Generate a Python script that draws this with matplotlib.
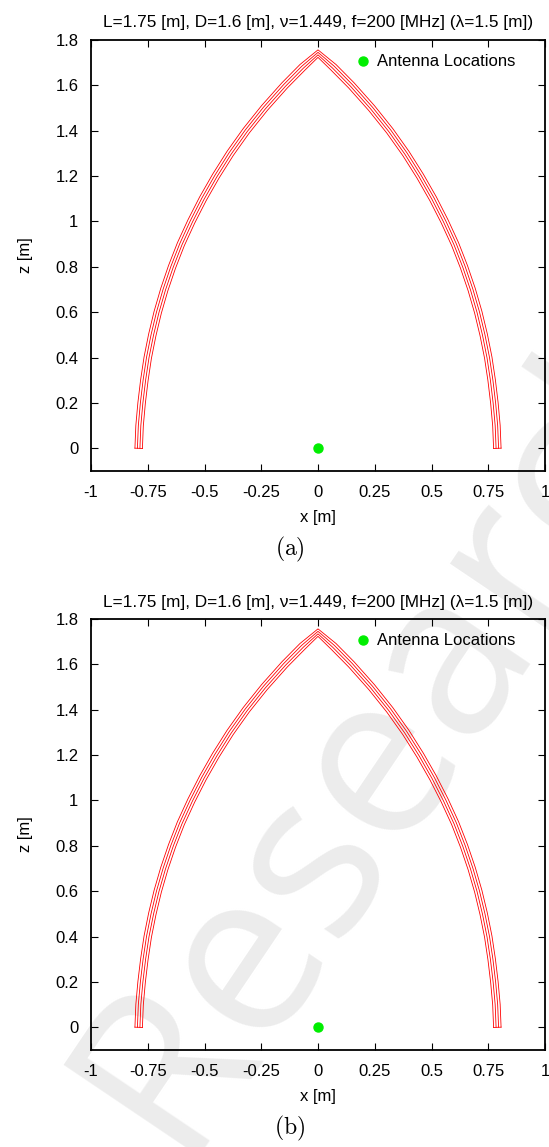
import numpy as np
import matplotlib
matplotlib.use('Agg')
import matplotlib.pyplot as plt

plt.rcParams['font.family'] = ['Liberation Sans', 'DejaVu Sans']
plt.rcParams['mathtext.fontset'] = 'cm'

# Right half of the shell centre line (z up, x out)
shell_z = [0.00, 0.10, 0.20, 0.30, 0.40, 0.50, 0.60, 0.70, 0.80, 0.90, 1.00,
           1.10, 1.20, 1.30, 1.40, 1.50, 1.60, 1.68, 1.74]
shell_x = [0.790, 0.786, 0.777, 0.765, 0.750, 0.730, 0.706, 0.677, 0.643, 0.604, 0.558,
           0.507, 0.450, 0.387, 0.316, 0.236, 0.147, 0.068, 0.000]

# antenna positions
antenna_x = [0.0]
antenna_z = [0.0]

title = 'L=1.75 [m], D=1.6 [m], \u03bd=1.449, f=200 [MHz] (\u03bb=1.5 [m])'
x_ticks = [-1, -0.75, -0.5, -0.25, 0, 0.25, 0.5, 0.75, 1]
x_ticklabels = ['-1', '-0.75', '-0.5', '-0.25', '0', '0.25', '0.5', '0.75', '1']
z_ticks = [0, 0.2, 0.4, 0.6, 0.8, 1.0, 1.2, 1.4, 1.6, 1.8]
z_ticklabels = ['0', '0.2', '0.4', '0.6', '0.8', '1', '1.2', '1.4', '1.6', '1.8']
panel_labels = ['(a)', '(b)']

# offsets of the four wall lines (m)
wall_offsets = [-0.0165, -0.0055, 0.0055, 0.0165]

FS = 12


def shell_lines():
    xr = np.array(shell_x)
    zr = np.array(shell_z)
    xs = np.concatenate([-xr, xr[::-1][1:]])
    zs = np.concatenate([zr, zr[::-1][1:]])
    tx = np.gradient(xs)
    tz = np.gradient(zs)
    n = np.hypot(tx, tz)
    nx, nz = -tz / n, tx / n
    return [(xs + d * nx, zs + d * nz) for d in wall_offsets]


def draw_panel(ax):
    lines = shell_lines()
    for lx, lz in lines:
        ax.plot(lx, lz, color='red', lw=0.6, zorder=2)
    # close the wall at both feet
    for i in (0, -1):
        ax.plot([lines[0][0][i], lines[-1][0][i]], [lines[0][1][i], lines[-1][1][i]],
                color='red', lw=0.6, zorder=2)
    ax.plot(antenna_x, antenna_z, 'o', color='#00ee00', ms=6.5, ls='none',
            label='Antenna Locations', zorder=3)
    ax.set_xlim(-1, 1)
    ax.set_ylim(-0.1, 1.8)
    ax.set_xticks(x_ticks)
    ax.set_xticklabels(x_ticklabels)
    ax.set_yticks(z_ticks)
    ax.set_yticklabels(z_ticklabels)
    ax.tick_params(direction='in', length=5, width=0.8, top=True, right=True,
                   labelsize=FS)
    ax.tick_params(axis='x', pad=10)
    ax.tick_params(axis='y', pad=9)
    for s in ax.spines.values():
        s.set_linewidth(1.3)
    ax.set_xlabel('x [m]', fontsize=FS, labelpad=7)
    ax.set_ylabel('z [m]', fontsize=FS, labelpad=16)
    ax.set_title(title, fontsize=12.4, pad=9)
    ax.legend(loc='center left', bbox_to_anchor=(0.570, 0.949), frameon=False,
              fontsize=FS, handlelength=0.8, handletextpad=0.44, numpoints=1,
              borderpad=0.4, borderaxespad=0)
    ax.patch.set_alpha(0)


fig = plt.figure(figsize=(5.49, 11.47), dpi=100)
W, H = 549, 1147

# watermark behind everything
fig.text(0.73, 0.375, 'Research', fontsize=165, color='#ececec', rotation=56,
         ha='center', va='center', zorder=-5,
         family=['Open Sans', 'DejaVu Sans'])

axes_px = [(91, 40, 545, 471), (91, 619, 545, 1050)]
label_y = [549, 1128]
for (l, t, r, b), lab, ly in zip(axes_px, panel_labels, label_y):
    ax = fig.add_axes([l / W, 1 - b / H, (r - l) / W, (b - t) / H])
    draw_panel(ax)
    fig.text(290 / W, 1 - ly / H, r'$\mathrm{' + lab + '}$', fontsize=17,
             ha='center', va='center')

fig.savefig('out.png', dpi=100)
